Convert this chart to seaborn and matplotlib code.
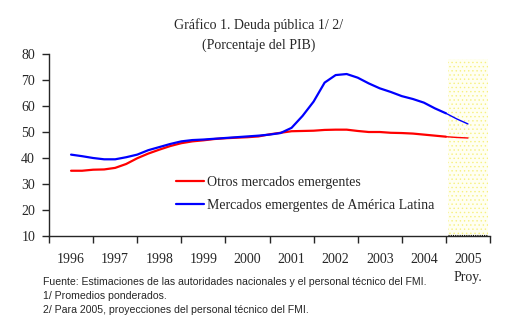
import numpy as np
import pandas as pd
import seaborn as sns
import matplotlib.pyplot as plt
from matplotlib.patches import Rectangle

# Valores trimestrales (% del PIB), 1996T1 .. 2005T1
years = list(np.arange(1996, 2005.01, 0.25))
otros = [35.1, 35.1, 35.5, 35.6,
         36.2, 37.7, 39.9, 41.7,
         43.2, 44.6, 45.7, 46.4,
         46.8, 47.3, 47.6, 47.8,
         48.0, 48.3, 49.1, 49.7,
         50.3, 50.4, 50.5, 50.8,
         50.9, 50.9, 50.4, 50.0,
         50.0, 49.7, 49.6, 49.4,
         49.0, 48.6, 48.2, 47.9,
         47.7]
latam = [41.3, 40.7, 40.0, 39.5,
         39.5, 40.3, 41.3, 43.0,
         44.2, 45.4, 46.4, 46.9,
         47.1, 47.4, 47.7, 48.0,
         48.3, 48.6, 49.0, 49.6,
         51.6, 56.2, 61.7, 69.0,
         71.9, 72.3, 70.9, 68.7,
         66.8, 65.4, 63.8, 62.7,
         61.3, 59.1, 57.2, 55.0,
         53.1]
year_labels = ['1996', '1997', '1998', '1999', '2000', '2001', '2002', '2003', '2004', '2005']
proj_start = 2004.5

lbl_otros = 'Otros mercados emergentes'
lbl_latam = 'Mercados emergentes de América Latina'

df = pd.DataFrame({'year': years, lbl_otros: otros, lbl_latam: latam})
hist = df[df['year'] <= proj_start]
proj = df[df['year'] >= proj_start]

sns.set_style('ticks')
plt.rcParams['font.family'] = ['Liberation Serif', 'DejaVu Serif']
plt.rcParams['hatch.linewidth'] = 0.5

fig = plt.figure(figsize=(5.23, 3.33), dpi=100)
ax = fig.add_axes([0.0937, 0.2913, 0.8432, 0.5465])

# zona de proyección
ax.add_patch(Rectangle((2004.55, 10), 0.9, 68.2, facecolor='#FFFFF2', edgecolor='#F7F080',
                       hatch='....', linewidth=0, zorder=0))
ax.hlines(10.5, 2004.55, 2005.45, colors='black', linestyles=(0, (1, 1)), linewidth=0.8)

sns.lineplot(data=hist, x='year', y=lbl_otros, color='#FF0000', linewidth=1.6, ax=ax, label=lbl_otros)
sns.lineplot(data=hist, x='year', y=lbl_latam, color='#0000FF', linewidth=1.6, ax=ax, label=lbl_latam)
sns.lineplot(data=proj, x='year', y=lbl_otros, color='#FF0000', linewidth=1.0, ax=ax, legend=False)
sns.lineplot(data=proj, x='year', y=lbl_latam, color='#0000FF', linewidth=1.0, ax=ax, legend=False)

ax.set_xlim(1995.5, 2005.5)
ax.set_ylim(10, 80)
ax.set_xlabel('')
ax.set_ylabel('')
sns.despine(ax=ax)

ax.set_yticks(range(10, 81, 10))
ax.tick_params(axis='y', length=5, width=1, pad=5, labelsize=10)
ax.set_xticks(np.arange(1995.5, 2006, 1))
ax.set_xticklabels([])
ax.set_xticks(np.arange(1996, 2006, 1), minor=True)
ax.set_xticklabels(year_labels, minor=True)
ax.tick_params(axis='x', which='major', length=5, width=1)
ax.tick_params(axis='x', which='minor', length=0, pad=12, labelsize=10)
for s in ax.spines.values():
    s.set_linewidth(1)

leg = ax.legend(loc='center left', bbox_to_anchor=(0.3365, 0.417), bbox_transform=fig.transFigure,
                frameon=False, fontsize=10, handlelength=2.0, handletextpad=0.25,
                labelspacing=0.75, borderpad=0, borderaxespad=0)

fig.text(0.495, 0.925, 'Gráfico 1. Deuda pública 1/ 2/', ha='center', va='center', fontsize=10)
fig.text(0.495, 0.865, '(Porcentaje del PIB)', ha='center', va='center', fontsize=10)
fig.text(468 / 523, 1 - 277 / 333, 'Proy.', ha='center', va='center', fontsize=10)

notas = ['Fuente: Estimaciones de las autoridades nacionales y el personal técnico del FMI.',
         '1/ Promedios ponderados.',
         '2/ Para 2005, proyecciones del personal técnico del FMI.']
for i, t in enumerate(notas):
    fig.text(43 / 523, 1 - (282 + 14 * i) / 333, t, ha='left', va='center', fontsize=7.6,
             family=['Liberation Sans', 'DejaVu Sans'])

fig.savefig('out.png', dpi=100)
